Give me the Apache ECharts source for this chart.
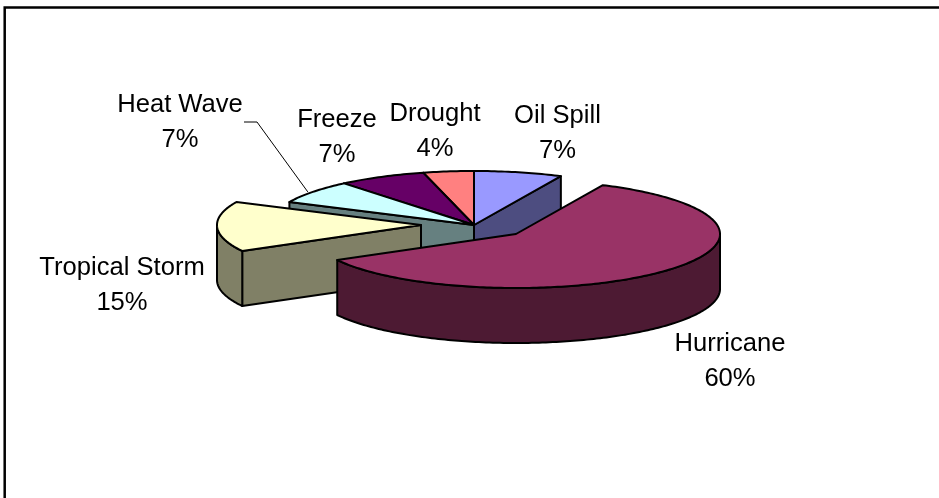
<!DOCTYPE html>
<html>
<head>
<meta charset="utf-8">
<style>html,body{margin:0;padding:0;background:#fff}#chart{width:939px;height:498px}</style>
<script src="https://cdn.jsdelivr.net/npm/echarts@6/dist/echarts.min.js"></script>
</head>
<body>
<div id="chart"></div>
<script>
// Share of events by type, clockwise from twelve o'clock
const categories = ['Oil Spill', 'Hurricane', 'Tropical Storm', 'Heat Wave', 'Freeze', 'Drought'];
const shares = [7, 60, 15, 7, 7, 4];

// Face colours of each wedge
const topColors = ['#9999FF', '#993366', '#FFFFCC', '#CCFFFF', '#660066', '#FF8080'];
const wallColors = ['#4D4D80', '#4D1A33', '#808066', '#668080', '#330033', '#804040'];

// Tilted-disc geometry
const disc = { cx: 474, cy: 225, rx: 204, ry: 54, depth: 55 };
const explodeOffsets = [[0, 0], [42, 9], [-53, 0], [0, 0], [0, 0], [0, 0]];
const labelCenters = [[557.5, 133], [730, 361], [122, 285], [180, 122], [337, 137], [435, 131]];
const leaderElbow = { index: 3, from: [244, 122], to: [257, 122] };

const total = shares.reduce((a, b) => a + b, 0);
const wedges = [];
let running = 0;
shares.forEach((v, i) => {
  const start = running / total * 360;
  running += v;
  wedges.push({ index: i, start, end: running / total * 360 });
});

const rad = d => d * Math.PI / 180;
const rim = (deg) => [disc.rx * Math.sin(rad(deg)), -disc.ry * Math.cos(rad(deg))];

// Paint back to front: wedges whose centre sits higher on screen go first
const drawOrder = wedges.slice().sort((a, b) => {
  const key = w => rim((w.start + w.end) / 2)[1] + explodeOffsets[w.index][1];
  return key(a) - key(b);
});

const outline = { stroke: '#000', lineWidth: 2, lineJoin: 'round' };

function arcPoints(a, b) {
  const pts = [];
  const steps = Math.max(2, Math.ceil(Math.abs(b - a)));
  for (let s = 0; s <= steps; s++) pts.push(rim(a + (b - a) * s / steps));
  return pts;
}

// A radial cut shows when the wedge interior lies above it on screen
function cutVisible(edgeDeg, midDeg) {
  const e = rim(edgeDeg), m = rim(midDeg);
  if (Math.abs(e[0]) < 1e-6) return false;
  return m[1] < e[1] / e[0] * m[0];
}

function renderWedge(params) {
  const w = drawOrder[params.dataIndex];
  const off = explodeOffsets[w.index];
  const ox = disc.cx + off[0], oy = disc.cy + off[1];
  const at = p => [ox + p[0], oy + p[1]];
  const down = p => [p[0], p[1] + disc.depth];
  const mid = (w.start + w.end) / 2;
  const children = [];
  const face = (pts, fill) => children.push({
    type: 'polygon', shape: { points: pts }, style: Object.assign({ fill }, outline)
  });

  [w.start, w.end].forEach(edge => {
    if (cutVisible(edge, mid)) {
      const a = at([0, 0]), b = at(rim(edge));
      face([a, b, down(b), down(a)], wallColors[w.index]);
    }
  });

  // Only the near half of the rim faces the viewer
  const from = Math.max(w.start, 90), to = Math.min(w.end, 270);
  if (to > from) {
    const upper = arcPoints(from, to).map(at);
    face(upper.concat(upper.slice().reverse().map(down)), wallColors[w.index]);
  }

  face([at([0, 0])].concat(arcPoints(w.start, w.end).map(at)), topColors[w.index]);
  return { type: 'group', children };
}

function renderLabels(params) {
  const i = params.dataIndex;
  return {
    type: 'text',
    style: {
      x: labelCenters[i][0], y: labelCenters[i][1],
      text: categories[i] + '\n' + shares[i] + '%',
      align: 'center', verticalAlign: 'middle',
      font: '25.6px "Liberation Sans", Arial, sans-serif',
      lineHeight: 35, fill: '#000'
    }
  };
}

function renderLeader() {
  const w = wedges[leaderElbow.index];
  const tip = rim((w.start + w.end) / 2);
  return {
    type: 'polyline',
    shape: { points: [leaderElbow.from, leaderElbow.to, [disc.cx + tip[0] - 5, disc.cy + tip[1]]] },
    style: { stroke: '#000', lineWidth: 1, fill: null }
  };
}

const chart = echarts.init(document.getElementById('chart'), null, { renderer: 'canvas' });
chart.setOption({
  animation: false,
  backgroundColor: '#fff',
  graphic: [{
    type: 'polyline', z: 0,
    shape: { points: [[4.7, 498], [4.7, 7.4], [939, 7.4]] },
    style: { stroke: '#000', lineWidth: 2.5, fill: null }
  }],
  series: [
    {
      type: 'custom', coordinateSystem: 'none', silent: true, z: 2,
      data: drawOrder.map(w => ({ name: categories[w.index], value: shares[w.index] })),
      renderItem: renderWedge
    },
    {
      type: 'custom', coordinateSystem: 'none', silent: true, z: 3,
      data: [shares[leaderElbow.index]],
      renderItem: renderLeader
    },
    {
      type: 'custom', coordinateSystem: 'none', silent: true, z: 4,
      data: categories.map((c, i) => ({ name: c, value: shares[i] })),
      renderItem: renderLabels
    }
  ]
});
</script>
</body>
</html>
